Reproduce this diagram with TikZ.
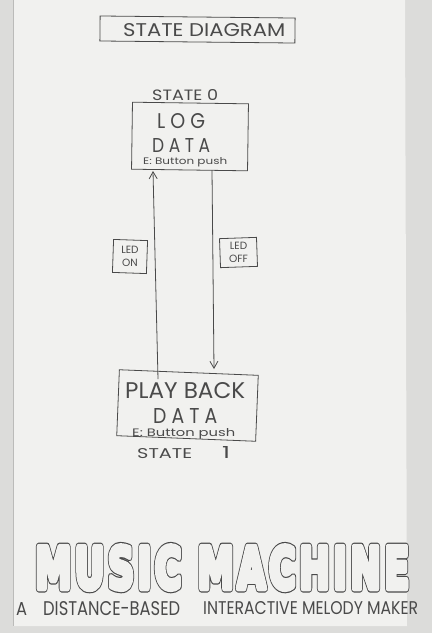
\documentclass[tikz,border=0pt]{standalone}
\usepackage{fontspec}
\usepackage{graphicx}
\setmainfont{Poppins}
\newfontfamily\bubblefont{DejaVu Sans}[LetterSpace=10]
\usetikzlibrary{arrows.meta}
\definecolor{pencil}{HTML}{4A4A4A}
\definecolor{paper}{HTML}{F1F1EF}
\definecolor{desk}{HTML}{DCDCDA}
\newcommand\fitto[3]{\resizebox{#1}{#2}{#3}}
% bubble lettering: a thick pencil stroke under a slightly thinner paper stroke
\newcommand\strokedtext[3]{{\color{#1}\special{pdf:literal direct 2 Tr #2 w 1 j}#3\special{pdf:literal direct 0 Tr 1 w}}}
\newcommand\bubble[1]{\rlap{\strokedtext{pencil}{10}{#1}}\strokedtext{paper}{7.2}{#1}}
\begin{document}
\begin{tikzpicture}[x=1pt,y=-1pt,
  sketch/.style={draw=pencil,line width=0.8pt},
  box/.style={sketch,fill=none,inner sep=0pt},
  hand/.style={text=pencil,inner sep=0pt,anchor=north west},
  link/.style={draw=pencil,line width=0.8pt,-{Straight Barb[length=7pt,width=8pt]}}]
  \useasboundingbox (0,0) rectangle (432,633);
  % desk and sheet of paper
  \fill[desk] (0,0) rectangle (432,633);
  \fill[paper] (13,0) -- (405,0) -- (407,626) -- (13,626) -- cycle;
  \draw[desk!85!black,line width=0.5pt] (13,0) -- (13,626);

  % title
  \node[box,minimum width=195pt,minimum height=25pt,rotate=-0.6] (title) at (197.5,29.5) {};
  \node[hand] (titletxt) at (123,23) {\fitto{162pt}{13pt}{STATE DIAGRAM}};

  % state 0
  \node[hand] (s0) at (152,89) {\fitto{66pt}{11pt}{STATE 0}};
  \node[box,minimum width=116pt,minimum height=67pt,rotate=-0.8] (log) at (190,136.5) {};
  \node[hand] (logt) at (157,113) {\fitto{48pt}{15pt}{L O G}};
  \node[hand] (logd) at (152,138) {\fitto{58pt}{14pt}{D A T A}};
  \node[hand] (loge) at (143,157) {\fitto{84pt}{7pt}{E: Button push}};

  % state 1
  \node[box,minimum width=139pt,minimum height=66pt,rotate=-2.3] (pb) at (187.5,405.5) {};
  \node[hand] (pbt) at (125,382) {\fitto{120pt}{16pt}{PLAY BACK}};
  \node[hand] (pbd) at (153,408) {\fitto{64pt}{15pt}{D A T A}};
  \node[hand] (pbe) at (132,428) {\fitto{103pt}{8pt}{E: Button push}};
  \node[hand] (s1a) at (137,448) {\fitto{55pt}{10pt}{STATE}};
  \node[hand] (s1b) at (222,446) {\fitto{8pt}{12pt}{1}};

  % transitions
  \coordinate (upbot) at (158,379);
  \coordinate (uptop) at (153,171);
  \coordinate (dntop) at (212,170);
  \coordinate (dnbot) at (214,369);
  \draw[link] (upbot) -- (uptop);
  \draw[link] (dntop) -- (dnbot);

  % transition labels
  \node[box,minimum width=34pt,minimum height=33pt,rotate=-2] (on) at (130,256.5) {};
  \node[hand,anchor=center,align=center,font=\fontsize{10.5}{13}\selectfont] (ontxt) at (130,256.5) {LED\\ON};
  \node[box,minimum width=37pt,minimum height=29pt,rotate=2] (off) at (238.5,252.5) {};
  \node[hand,anchor=center,align=center,font=\fontsize{10.5}{13}\selectfont] (offtxt) at (238.5,252.5) {LED\\OFF};

  % heading in hollow bubble letters
  \node[hand] (music) at (35,546) {\fitto{374pt}{42pt}{\bubblefont\fontsize{66}{70}\selectfont\bfseries\bubble{MUSIC MACHINE}}};
  % subtitle
  \node[hand] (suba) at (16,602) {\fitto{11pt}{13pt}{A}};
  \node[hand] (subb) at (43,601) {\fitto{137pt}{14pt}{DISTANCE-BASED}};
  \node[hand] (subc) at (203,601) {\fitto{215pt}{13pt}{INTERACTIVE MELODY MAKER}};
\end{tikzpicture}
\end{document}
